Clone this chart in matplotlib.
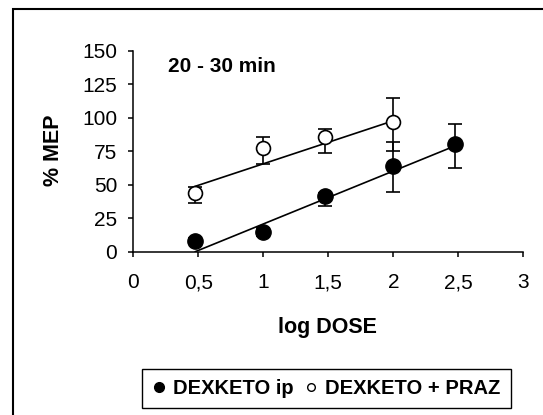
import numpy as np
import matplotlib
matplotlib.use("Agg")
import matplotlib.pyplot as plt
from matplotlib.patches import Rectangle
from matplotlib.lines import Line2D

plt.rcParams['font.family'] = ['Liberation Sans', 'DejaVu Sans']

# ---- data ----
log_dose = [0.477, 1.0, 1.477, 2.0, 2.477]
dexketo_ip = [8.0, 15.0, 41.8, 64.0, 80.5]
dexketo_ip_err_low = [2.0, 3.0, 7.5, 19.7, 18.3]
dexketo_ip_err_high = [2.0, 3.0, 2.0, 17.6, 14.7]

log_dose_praz = [0.477, 1.0, 1.477, 2.0]
dexketo_praz = [43.5, 77.5, 85.5, 97.0]
dexketo_praz_err_low = [7.5, 12.1, 11.5, 21.6]
dexketo_praz_err_high = [5.0, 8.3, 6.3, 17.5]

# trend lines (slope, intercept)
trend_ip = (39.5, -18.8)
trend_praz = (32.1, 33.5)

x_ticks = [0, 0.5, 1, 1.5, 2, 2.5, 3]
x_tick_labels = ['0', '0,5', '1', '1,5', '2', '2,5', '3']
y_ticks = [0, 25, 50, 75, 100, 125, 150]

W, H = 543, 415
fig = plt.figure(figsize=(W / 100, H / 100), dpi=100)
ax = fig.add_axes([133.3 / W, 1 - 251.7 / H, 390 / W, 201 / H])

# trend lines
xi = np.array([log_dose[0], log_dose[-1]])
ax.plot(xi, trend_ip[0] * xi + trend_ip[1], color='black', lw=1.2, zorder=2)
xp = np.array([log_dose_praz[0], log_dose_praz[-1]])
ax.plot(xp, trend_praz[0] * xp + trend_praz[1], color='black', lw=1.2, zorder=2)

# error bars + markers
ax.errorbar(log_dose, dexketo_ip, yerr=[dexketo_ip_err_low, dexketo_ip_err_high],
            fmt='o', color='black', mfc='black', mec='black', ms=11,
            ecolor='black', elinewidth=1.2, capsize=4.8, capthick=1.2,
            zorder=3, clip_on=False)
ax.errorbar(log_dose_praz, dexketo_praz, yerr=[dexketo_praz_err_low, dexketo_praz_err_high],
            fmt='o', color='black', mfc='white', mec='black', mew=1.2, ms=10,
            ecolor='black', elinewidth=1.2, capsize=4.8, capthick=1.2,
            zorder=3, clip_on=False)

ax.set_xlim(0, 3)
ax.set_ylim(0, 150)
ax.set_xticks(x_ticks)
ax.set_xticklabels(x_tick_labels)
ax.set_yticks(y_ticks)
for s in ['top', 'right']:
    ax.spines[s].set_visible(False)
for s in ['left', 'bottom']:
    ax.spines[s].set_linewidth(1.1)
ax.tick_params(axis='x', direction='out', length=3.6, width=1.1, pad=12, labelsize=15)
ax.tick_params(axis='y', direction='out', length=3.6, width=1.1, pad=8, labelsize=15)

ax.set_ylabel('% MEP', fontsize=15.5, fontweight='bold', va='center')
ax.yaxis.set_label_coords((53.6 - 133.3) / 390, (251.7 - 150) / 201)
ax.set_xlabel('log DOSE', fontsize=15.5, fontweight='bold', va='center')
ax.xaxis.set_label_coords((327 - 133.3) / 390, (251.7 - 327) / 201)

fig.text(168 / W, 1 - 66 / H, '20 - 30 min', fontsize=15, fontweight='bold',
         ha='left', va='center')

# legend
h1 = Line2D([], [], marker='o', ls='none', mfc='black', mec='black', ms=7)
h2 = Line2D([], [], marker='o', ls='none', mfc='white', mec='black', mew=1.0, ms=5.5)
leg = fig.legend([h1, h2], ['DEXKETO ip', 'DEXKETO + PRAZ'], loc='center',
                 bbox_to_anchor=(326.5 / W, 1 - 388.5 / H), ncol=2, frameon=True,
                 fancybox=False, edgecolor='black', framealpha=1,
                 prop={'weight': 'bold', 'size': 14.5}, handlelength=0.7,
                 handletextpad=0.35, columnspacing=0.5, borderpad=0.5,
                 borderaxespad=0)
leg.get_frame().set_linewidth(1.0)

# outer border
fig.patches.append(Rectangle((13 / W, -0.2), 1.2, 1.2 - 9.5 / H,
                             transform=fig.transFigure, fill=False,
                             edgecolor='black', linewidth=1.5, clip_on=False))

fig.savefig('out.png', dpi=100)
